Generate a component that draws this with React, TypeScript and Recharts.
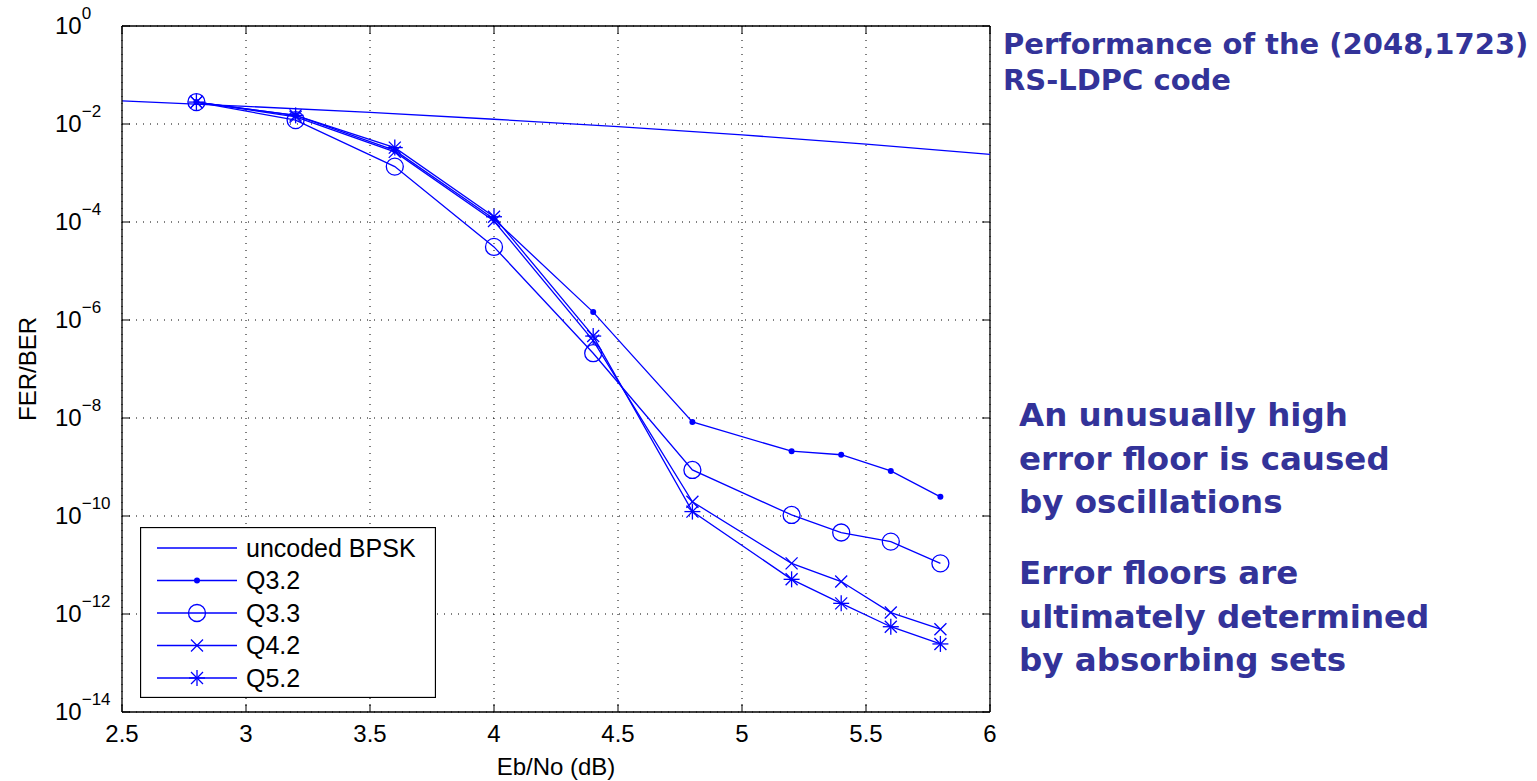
import React from "react";
import { LineChart, Line, XAxis, YAxis, CartesianGrid, ReferenceLine, Legend } from "recharts";

const BLUE = "#0000ff";
const NAVY = "#333399";

// Eb/No points where the decoders were simulated
const EBNO = [2.8, 3.2, 3.6, 4.0, 4.4, 4.8, 5.2, 5.4, 5.6, 5.8];

const UNCODED_X = [2.5, 3.0, 3.5, 4.0, 4.5, 5.0, 5.5, 6.0];
const UNCODED_Y = [0.0297, 0.0229, 0.0172, 0.0125, 0.0088, 0.006, 0.0039, 0.0024];

const Q32 = [0.028, 0.015, 0.0029, 1.15e-4, 1.45e-6, 8.3e-9, 2.1e-9, 1.78e-9, 8.3e-10, 2.46e-10];
const Q33 = [0.028, 0.012, 1.35e-3, 3.1e-5, 2.1e-7, 8.7e-10, 1.05e-10, 4.6e-11, 3.0e-11, 1.08e-11];
const Q42 = [0.028, 0.014, 0.0027, 1.05e-4, 3.8e-7, 1.95e-10, 1.08e-11, 4.6e-12, 1.07e-12, 4.9e-13];
const Q52 = [0.028, 0.015, 0.0033, 1.28e-4, 4.7e-7, 1.23e-10, 5.1e-12, 1.65e-12, 5.5e-13, 2.45e-13];

const X_TICKS = [2.5, 3, 3.5, 4, 4.5, 5, 5.5, 6];
const Y_EXPONENTS = [0, -2, -4, -6, -8, -10, -12, -14];
const Y_TICKS = Y_EXPONENTS.map((e) => Math.pow(10, e));

const PLOT_W = 868;
const PLOT_H = 686;

const toPoints = (xs: number[], ys: number[]) => xs.map((x, i) => ({ x, y: ys[i] }));

type MarkerKind = "none" | "dot" | "circle" | "x" | "star";

const SERIES: { name: string; kind: MarkerKind; data: { x: number; y: number }[] }[] = [
  { name: "uncoded BPSK", kind: "none", data: toPoints(UNCODED_X, UNCODED_Y) },
  { name: "Q3.2", kind: "dot", data: toPoints(EBNO, Q32) },
  { name: "Q3.3", kind: "circle", data: toPoints(EBNO, Q33) },
  { name: "Q4.2", kind: "x", data: toPoints(EBNO, Q42) },
  { name: "Q5.2", kind: "star", data: toPoints(EBNO, Q52) },
];

function Marker({ kind, cx, cy }: { kind: MarkerKind; cx: number; cy: number }) {
  const sw = 1.3;
  if (kind === "dot") return <circle cx={cx} cy={cy} r={3} fill={BLUE} stroke="none" />;
  if (kind === "circle") return <circle cx={cx} cy={cy} r={8.5} fill="none" stroke={BLUE} strokeWidth={sw} />;
  if (kind === "x") {
    const s = 6;
    return (
      <g stroke={BLUE} strokeWidth={sw}>
        <line x1={cx - s} y1={cy - s} x2={cx + s} y2={cy + s} />
        <line x1={cx - s} y1={cy + s} x2={cx + s} y2={cy - s} />
      </g>
    );
  }
  if (kind === "star") {
    const s = 8;
    const d = 6;
    return (
      <g stroke={BLUE} strokeWidth={sw}>
        <line x1={cx} y1={cy - s} x2={cx} y2={cy + s} />
        <line x1={cx - s} y1={cy} x2={cx + s} y2={cy} />
        <line x1={cx - d} y1={cy - d} x2={cx + d} y2={cy + d} />
        <line x1={cx - d} y1={cy + d} x2={cx + d} y2={cy - d} />
      </g>
    );
  }
  return null;
}

const makeDot = (kind: MarkerKind) => (props: any) => {
  const { cx, cy, index } = props;
  if (kind === "none" || cx == null || cy == null || isNaN(cx) || isNaN(cy)) return <g key={`d-${index}`} />;
  return (
    <g key={`d-${index}`}>
      <Marker kind={kind} cx={cx} cy={cy} />
    </g>
  );
};

const XTick = (props: any) => {
  const { x, y, payload } = props;
  return (
    <g>
      <line x1={x} y1={y} x2={x} y2={y - 8} stroke="#000" />
      <line x1={x} y1={y - PLOT_H} x2={x} y2={y - PLOT_H + 8} stroke="#000" />
      <text x={x} y={y + 30} textAnchor="middle" fontSize={24} fill="#000" fontFamily="'Liberation Sans', Arial, sans-serif">
        {payload.value}
      </text>
    </g>
  );
};

const YTick = (props: any) => {
  const { x, y, payload } = props;
  const exp = Math.round(Math.log10(payload.value));
  const expText = exp === 0 ? "0" : `\u2212${Math.abs(exp)}`;
  return (
    <g>
      <line x1={x} y1={y} x2={x + 8} y2={y} stroke="#000" />
      <line x1={x + PLOT_W - 8} y1={y} x2={x + PLOT_W} y2={y} stroke="#000" />
      <text x={x - 67} y={y + 8} fontSize={24} fill="#000" fontFamily="'Liberation Sans', Arial, sans-serif">
        10
        <tspan dy={-15} fontSize={17}>
          {expText}
        </tspan>
      </text>
    </g>
  );
};

const YLabel = (props: any) => {
  const vb = props.viewBox || { x: 0, y: 26, width: 122, height: PLOT_H };
  const cy = vb.y + vb.height / 2;
  return (
    <text
      x={36}
      y={cy}
      transform={`rotate(-90, 36, ${cy})`}
      textAnchor="middle"
      fontSize={24}
      fill="#000"
      fontFamily="'Liberation Sans', Arial, sans-serif"
    >
      FER/BER
    </text>
  );
};

const LegendBox = () => (
  <svg width={296} height={171} style={{ display: "block" }}>
    <rect x={0.5} y={0.5} width={295} height={170} fill="#fff" stroke="#000" strokeWidth={1.3} />
    {SERIES.map((s, i) => {
      const cy = 21 + i * 32.5;
      return (
        <g key={s.name}>
          <line x1={17} y1={cy} x2={97} y2={cy} stroke={BLUE} strokeWidth={1.3} />
          <Marker kind={s.kind} cx={57} cy={cy} />
          <text x={106} y={cy + 8.5} fontSize={25} fill="#000" fontFamily="'Liberation Sans', Arial, sans-serif">
            {s.name}
          </text>
        </g>
      );
    })}
  </svg>
);

const noteStyle: React.CSSProperties = {
  position: "absolute",
  color: NAVY,
  fontFamily: "'DejaVu Sans', Verdana, sans-serif",
  fontWeight: "bold",
  whiteSpace: "nowrap",
};

export default function App() {
  return (
    <div style={{ position: "absolute", left: 0, top: 0, width: 1537, height: 781, background: "#fff" }}>
      <LineChart width={1537} height={781} margin={{ top: 26, right: 547, bottom: 0, left: 0 }}>
        <CartesianGrid stroke="#000" strokeDasharray="1 6" strokeWidth={1} />
        <XAxis
          dataKey="x"
          type="number"
          domain={[2.5, 6]}
          ticks={X_TICKS}
          allowDataOverflow
          height={69}
          tickSize={0}
          tickMargin={0}
          tickLine={false}
          axisLine={{ stroke: "#000", strokeWidth: 1.3 }}
          tick={<XTick />}
          label={{
            value: "Eb/No (dB)",
            position: "insideBottom",
            offset: 6,
            fontSize: 24,
            fill: "#000",
            fontFamily: "'Liberation Sans', Arial, sans-serif",
          }}
        />
        <YAxis
          type="number"
          scale="log"
          domain={[1e-14, 1]}
          ticks={Y_TICKS}
          allowDataOverflow
          width={122}
          tickSize={0}
          tickMargin={0}
          tickLine={false}
          axisLine={{ stroke: "#000", strokeWidth: 1.3 }}
          tick={<YTick />}
          label={<YLabel />}
        />
        <ReferenceLine y={1} stroke="#000" strokeWidth={1.3} />
        <ReferenceLine x={6} stroke="#000" strokeWidth={1.3} />
        {SERIES.map((s) => (
          <Line
            key={s.name}
            name={s.name}
            data={s.data}
            dataKey="y"
            type="linear"
            stroke={BLUE}
            strokeWidth={1.3}
            dot={makeDot(s.kind)}
            activeDot={false}
            isAnimationActive={false}
          />
        ))}
        <Legend
          layout="vertical"
          verticalAlign="middle"
          align="center"
          wrapperStyle={{ position: "absolute", left: 140, top: 527, width: 296, height: 171 }}
          content={() => <LegendBox />}
        />
      </LineChart>

      <div style={{ ...noteStyle, left: 1003, top: 26, fontSize: 29, lineHeight: "36px" }}>
        Performance of the (2048,1723)
        <br />
        RS-LDPC code
      </div>
      <div style={{ ...noteStyle, left: 1019, top: 394, fontSize: 32.5, lineHeight: "43.5px" }}>
        An unusually high
        <br />
        error floor is caused
        <br />
        by oscillations
      </div>
      <div style={{ ...noteStyle, left: 1019, top: 552, fontSize: 32.5, lineHeight: "43.5px" }}>
        Error floors are
        <br />
        ultimately determined
        <br />
        by absorbing sets
      </div>
    </div>
  );
}
